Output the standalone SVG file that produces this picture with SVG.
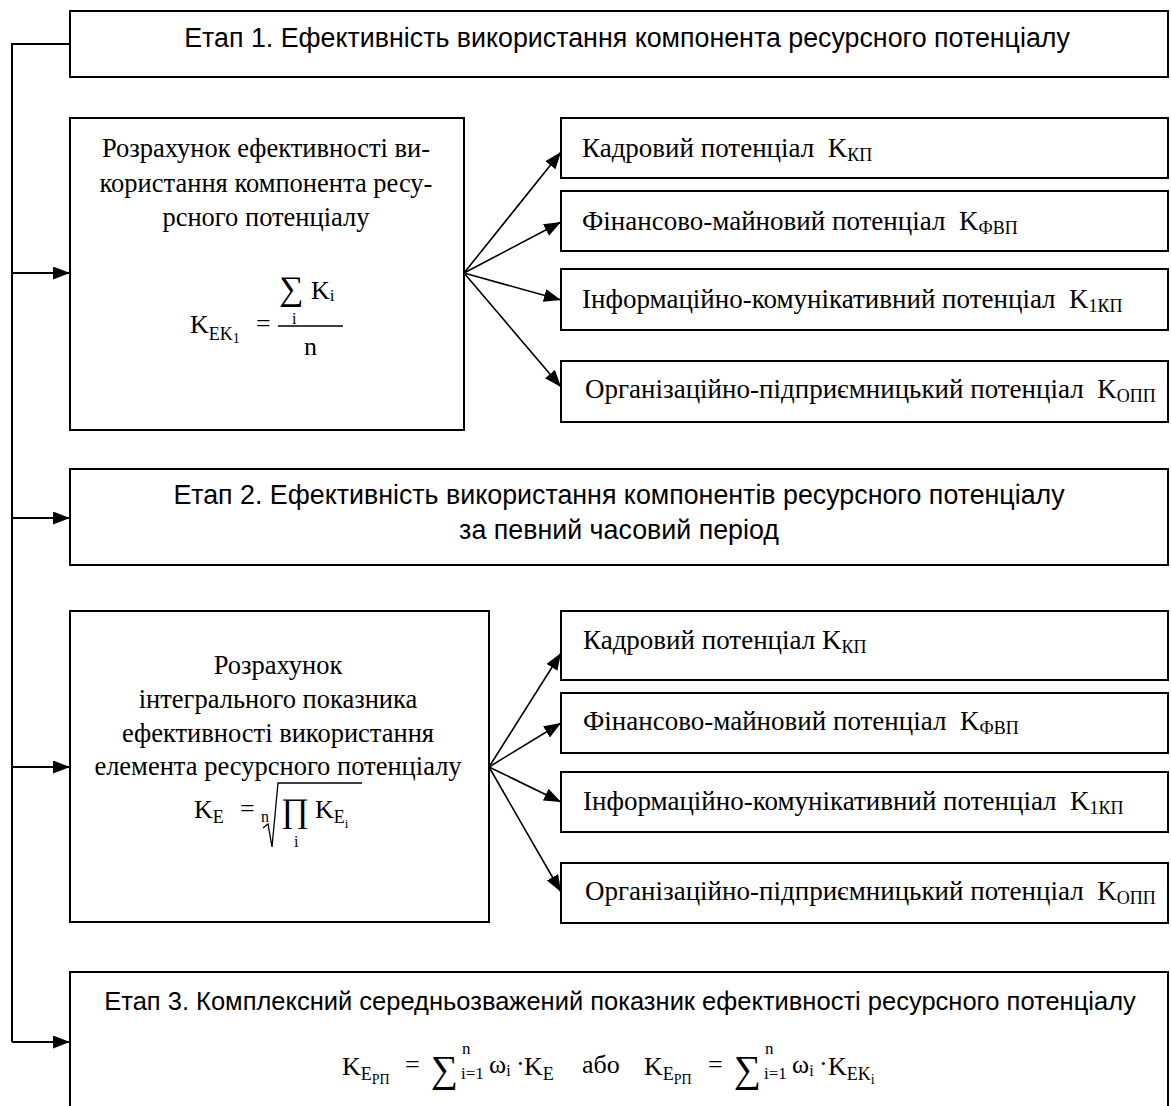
<svg xmlns="http://www.w3.org/2000/svg" width="1171" height="1106" viewBox="0 0 1171 1106">
<defs>
<marker id="ah" markerUnits="userSpaceOnUse" markerWidth="18" markerHeight="14" refX="17" refY="6.5" orient="auto">
<path d="M0,0 L17,6.5 L0,13 z" fill="#000"/>
</marker>
<style>
.box{fill:#fff;stroke:#000;stroke-width:2}
.sans{font-family:"Liberation Sans",Arial,sans-serif;font-size:26.8px;fill:#000}
.serif{font-family:"Liberation Serif","Times New Roman",serif;font-size:26.5px;fill:#000}
.lbl{font-family:"Liberation Serif","Times New Roman",serif;font-size:27px;fill:#000}
.sub{font-size:18px}
.m{font-family:"Liberation Serif","Times New Roman",serif;fill:#000}
.c{text-anchor:middle}
.ln{fill:none;stroke:#000;stroke-width:2}
.fan{fill:none;stroke:#000;stroke-width:1.6}
</style>
</defs>
<rect width="1171" height="1106" fill="#fff"/>

<g id="connectors">
<path class="ln" d="M70,44 H12 V1042"/>
<line class="ln" x1="12" y1="273" x2="70" y2="273" marker-end="url(#ah)"/>
<line class="ln" x1="12" y1="518" x2="70" y2="518" marker-end="url(#ah)"/>
<line class="ln" x1="12" y1="767" x2="70" y2="767" marker-end="url(#ah)"/>
<line class="ln" x1="12" y1="1042" x2="70" y2="1042" marker-end="url(#ah)"/>
<line class="fan" x1="464" y1="273" x2="561" y2="152" marker-end="url(#ah)"/>
<line class="fan" x1="464" y1="273" x2="561" y2="222" marker-end="url(#ah)"/>
<line class="fan" x1="464" y1="273" x2="561" y2="300" marker-end="url(#ah)"/>
<line class="fan" x1="464" y1="273" x2="561" y2="387" marker-end="url(#ah)"/>
<line class="fan" x1="489" y1="767" x2="561" y2="653" marker-end="url(#ah)"/>
<line class="fan" x1="489" y1="767" x2="561" y2="723" marker-end="url(#ah)"/>
<line class="fan" x1="489" y1="767" x2="561" y2="802" marker-end="url(#ah)"/>
<line class="fan" x1="489" y1="767" x2="561" y2="892" marker-end="url(#ah)"/>
</g>

<g id="stage1">
<rect class="box" x="70" y="11" width="1098" height="66"/>
<text class="sans c" x="627" y="47">Етап 1. Ефективність використання компонента ресурсного потенціалу</text>
</g>

<g id="calc1">
<rect class="box" x="70" y="118" width="394" height="312"/>
<text class="serif c" x="266" y="157">Розрахунок ефективності ви-</text>
<text class="serif c" x="266" y="192">користання компонента ресу-</text>
<text class="serif c" x="266" y="226">рсного потенціалу</text>
<text class="m" x="190" y="333" font-size="26">K<tspan dy="7" font-size="18">EK</tspan><tspan dy="3" font-size="14">1</tspan></text>
<text class="m" x="256" y="332" font-size="26">=</text>
<text class="m" x="279" y="300" font-size="34">∑</text>
<text class="m" x="311" y="299" font-size="26">K<tspan dy="2" font-size="17">i</tspan></text>
<text class="m" x="292" y="324" font-size="16">i</text>
<line x1="278" y1="326" x2="343" y2="326" stroke="#000" stroke-width="1.3"/>
<text class="m" x="304" y="355" font-size="26">n</text>
</g>

<g id="s1kp">
<rect class="box" x="561" y="118" width="607" height="60"/>
<text class="lbl" x="582" y="157" xml:space="preserve">Кадровий потенціал  K<tspan class="sub" dy="4">КП</tspan></text>
</g>
<g id="s1fvp">
<rect class="box" x="561" y="191" width="607" height="60"/>
<text class="lbl" x="582" y="230" xml:space="preserve">Фінансово-майновий потенціал  K<tspan class="sub" dy="4">ФВП</tspan></text>
</g>
<g id="s1ikp">
<rect class="box" x="561" y="269" width="607" height="61"/>
<text class="lbl" x="582" y="308" xml:space="preserve">Інформаційно-комунікативний потенціал  K<tspan class="sub" dy="4">1КП</tspan></text>
</g>
<g id="s1opp">
<rect class="box" x="561" y="361" width="607" height="61"/>
<text class="lbl" x="585" y="398" xml:space="preserve">Організаційно-підприємницький потенціал  K<tspan class="sub" dy="4">ОПП</tspan></text>
</g>

<g id="stage2">
<rect class="box" x="70" y="469" width="1098" height="96"/>
<text class="sans c" x="619" y="504">Етап 2. Ефективність використання компонентів ресурсного потенціалу</text>
<text class="sans c" x="619" y="539">за певний часовий період</text>
</g>

<g id="calc2">
<rect class="box" x="70" y="611" width="419" height="311"/>
<text class="serif c" x="278" y="674">Розрахунок</text>
<text class="serif c" x="278" y="708">інтегрального показника</text>
<text class="serif c" x="278" y="742">ефективності використання</text>
<text class="serif c" x="278" y="775">елемента ресурсного потенціалу</text>
<text class="m" x="194" y="818" font-size="26">K<tspan dy="5" font-size="18">E</tspan></text>
<text class="m" x="240" y="817" font-size="26">=</text>
<text class="m" x="261" y="822" font-size="16">n</text>
<path d="M263,828 L268,824 L272,847 L278,783 H362" fill="none" stroke="#000" stroke-width="1.3"/>
<text class="m" x="281" y="822" font-size="34">∏</text>
<text class="m" x="294" y="847" font-size="16">i</text>
<text class="m" x="315" y="818" font-size="26">K<tspan dy="5" font-size="18">E</tspan><tspan dy="5" font-size="13">i</tspan></text>
</g>

<g id="s2kp">
<rect class="box" x="561" y="611" width="607" height="69"/>
<text class="lbl" x="583" y="649" xml:space="preserve">Кадровий потенціал K<tspan class="sub" dy="4">КП</tspan></text>
</g>
<g id="s2fvp">
<rect class="box" x="561" y="693" width="607" height="60"/>
<text class="lbl" x="583" y="730" xml:space="preserve">Фінансово-майновий потенціал  K<tspan class="sub" dy="4">ФВП</tspan></text>
</g>
<g id="s2ikp">
<rect class="box" x="561" y="772" width="607" height="60"/>
<text class="lbl" x="583" y="810" xml:space="preserve">Інформаційно-комунікативний потенціал  K<tspan class="sub" dy="4">1КП</tspan></text>
</g>
<g id="s2opp">
<rect class="box" x="561" y="863" width="607" height="60"/>
<text class="lbl" x="585" y="900" xml:space="preserve">Організаційно-підприємницький потенціал  K<tspan class="sub" dy="4">ОПП</tspan></text>
</g>

<g id="stage3">
<rect class="box" x="70" y="972" width="1098" height="150"/>
<text class="sans c" x="620" y="1010" style="font-size:25.5px">Етап 3. Комплексний середньозважений показник ефективності ресурсного потенціалу</text>
<text class="m" x="342" y="1075" font-size="26">K<tspan dy="5" font-size="18">E</tspan><tspan dy="4" font-size="14">РП</tspan></text>
<text class="m" x="405" y="1073" font-size="26">=</text>
<text class="m" x="431" y="1082" font-size="38">∑</text>
<text class="m" x="462" y="1054" font-size="17">n</text>
<text class="m" x="461" y="1079" font-size="17">i=1</text>
<text class="m" x="489" y="1073" font-size="26">ω<tspan dy="3" font-size="16">i</tspan></text>
<text class="m" x="516" y="1072" font-size="26">·</text>
<text class="m" x="524" y="1075" font-size="26">K<tspan dy="5" font-size="18">E</tspan></text>
<text class="m" x="582" y="1073" font-size="26">або</text>
<text class="m" x="644" y="1075" font-size="26">K<tspan dy="5" font-size="18">E</tspan><tspan dy="4" font-size="14">РП</tspan></text>
<text class="m" x="708" y="1073" font-size="26">=</text>
<text class="m" x="734" y="1082" font-size="38">∑</text>
<text class="m" x="765" y="1054" font-size="17">n</text>
<text class="m" x="764" y="1079" font-size="17">i=1</text>
<text class="m" x="792" y="1073" font-size="26">ω<tspan dy="3" font-size="16">i</tspan></text>
<text class="m" x="819" y="1072" font-size="26">·</text>
<text class="m" x="828" y="1075" font-size="26">K<tspan dy="5" font-size="18">EK</tspan><tspan dy="4" font-size="14">i</tspan></text>
</g>
</svg>
